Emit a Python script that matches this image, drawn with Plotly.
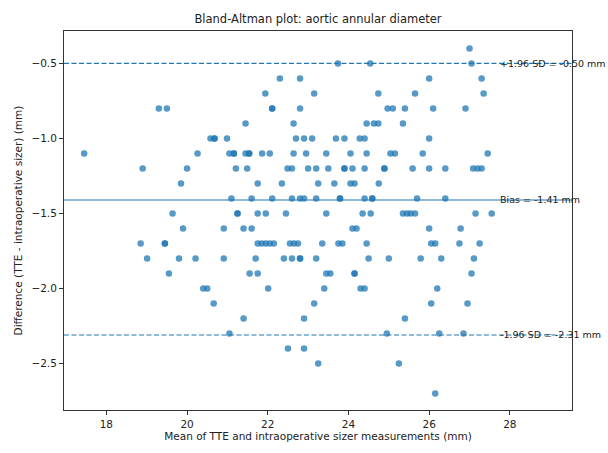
import plotly.graph_objects as go

# Mean of TTE and sizer (mm), grouped by difference value (mm)
row_diffs = [-0.4, -0.5, -0.6, -0.7, -0.8, -0.9, -1.0, -1.1, -1.2, -1.3, -1.4,
             -1.5, -1.6, -1.7, -1.8, -1.9, -2.0, -2.1, -2.2, -2.3, -2.4, -2.5, -2.7]
row_means = [
    [27.0],
    [23.74, 24.54, 27.05],
    [22.30, 22.80, 26.00, 27.30],
    [21.94, 23.15, 24.74, 25.65, 27.35],
    [19.30, 19.50, 22.11, 22.11, 22.80, 24.97, 25.10, 25.40, 26.10, 26.90],
    [21.45, 22.64, 24.45, 24.63, 24.74, 25.35],
    [20.58, 20.68, 20.68, 20.99, 22.70, 22.90, 23.10, 23.69, 23.90, 24.28, 24.40, 26.00],
    [17.45, 20.26, 21.05, 21.16, 21.16, 21.45, 21.54, 21.54, 21.86, 22.05, 22.64, 22.95,
     23.45, 24.05, 24.45, 25.04, 25.15, 25.84, 27.45],
    [18.90, 20.00, 21.21, 21.49, 22.49, 22.60, 23.00, 23.20, 23.50, 23.90, 23.90, 24.10,
     24.40, 24.89, 24.89, 25.59, 26.00, 26.40, 27.09, 27.20, 27.30],
    [19.85, 21.75, 22.35, 23.25, 23.65, 24.05, 24.15, 24.75],
    [21.10, 21.60, 22.11, 22.60, 22.80, 22.90, 23.20, 23.79, 23.79, 24.40, 24.59, 24.59,
     25.70, 26.40],
    [19.64, 21.25, 21.25, 21.75, 21.95, 22.45, 23.45, 24.35, 24.55, 25.35, 25.45, 25.54,
     25.65, 27.15, 27.55],
    [19.90, 20.91, 21.40, 21.60, 24.10, 24.20, 26.00, 26.78],
    [18.85, 19.45, 19.45, 21.75, 21.85, 21.95, 22.05, 22.15, 22.55, 22.65, 22.75, 23.35,
     23.75, 23.85, 24.45, 26.05, 26.15, 26.75, 27.25],
    [19.01, 19.80, 20.21, 20.91, 21.70, 22.40, 22.60, 22.80, 22.80, 23.20, 24.50, 25.00,
     25.79, 26.30, 27.11],
    [19.55, 21.55, 21.75, 23.45, 23.55, 24.15, 24.15, 27.05],
    [20.40, 20.50, 22.01, 23.40, 24.30, 24.40, 26.20],
    [20.66, 23.15, 26.05, 26.95],
    [21.40, 22.90, 25.40],
    [21.05, 24.95, 26.25, 26.85],
    [22.50, 22.90],
    [23.25, 25.25],
    [26.15],
]

means = [m for ms in row_means for m in ms]
diffs = [d for d, ms in zip(row_diffs, row_means) for _ in ms]

bias = -1.41
upper_loa = -0.50
lower_loa = -2.31
label_x = 27.75

C0 = "#1f77b4"
FONT = "DejaVu Sans"

fig = go.Figure()
fig.add_trace(go.Scatter(
    x=means, y=diffs, mode="markers",
    marker=dict(color=C0, size=6.5, opacity=0.75, line=dict(width=0)),
    showlegend=False, hoverinfo="x+y",
))

for val, dash in [(bias, "solid"), (upper_loa, "dash"), (lower_loa, "dash")]:
    fig.add_shape(type="line", xref="paper", yref="y", x0=0, x1=1, y0=val, y1=val,
                  line=dict(color=C0, width=1.1, dash="solid" if dash == "solid" else "5px,2.5px"),
                  layer="above")

labels = [
    (upper_loa, f"+1.96 SD = {upper_loa:.2f} mm"),
    (bias, f"Bias = {bias:.2f} mm"),
    (lower_loa, f"-1.96 SD = {lower_loa:.2f} mm"),
]
for val, txt in labels:
    fig.add_annotation(x=label_x, y=val, xref="x", yref="y", text=txt, showarrow=False,
                       xanchor="left", yanchor="middle", xshift=-2,
                       font=dict(family=FONT, size=9.5, color="#222222"))

axis_common = dict(
    showline=True, linecolor="#333333", linewidth=1, mirror=True,
    ticks="outside", ticklen=4, tickcolor="#333333", showgrid=False, zeroline=False,
    tickfont=dict(family=FONT, size=10.5, color="#222222"),
)

fig.update_layout(
    width=608, height=453,
    margin=dict(l=64, r=36, t=31, b=33),
    paper_bgcolor="white", plot_bgcolor="white",
    title=dict(text="Bland-Altman plot: aortic annular diameter", x=0.5, xanchor="center",
               xref="paper", y=0.958, yanchor="middle",
               font=dict(family=FONT, size=11.5, color="#222222")),
    xaxis=dict(range=[16.95, 29.54], tickvals=[18, 20, 22, 24, 26, 28],
               title=dict(text="Mean of TTE and intraoperative sizer measurements (mm)",
                          font=dict(family=FONT, size=10.5, color="#222222"), standoff=4),
               **axis_common),
    yaxis=dict(range=[-2.81, -0.284], tickvals=[-2.5, -2.0, -1.5, -1.0, -0.5],
               ticktext=["−2.5", "−2.0", "−1.5", "−1.0", "−0.5"],
               title=dict(text="Difference (TTE - intraoperative sizer) (mm)",
                          font=dict(family=FONT, size=10.5, color="#222222"), standoff=6),
               **axis_common),
)

fig.write_html("out.html", config={"displayModeBar": False},
               post_script="document.body.style.margin='0';document.body.style.overflow='hidden';")
